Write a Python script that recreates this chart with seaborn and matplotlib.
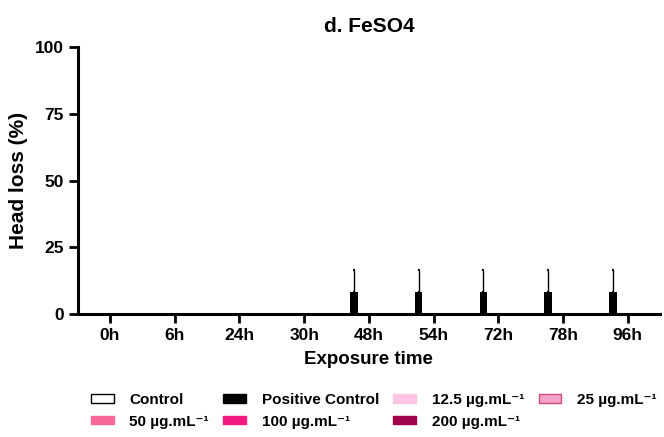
import numpy as np
import pandas as pd
import matplotlib
matplotlib.use("Agg")
import matplotlib.pyplot as plt
import seaborn as sns
from matplotlib.patches import Patch

sns.set_theme(style="ticks")
plt.rcParams['font.family'] = ['Liberation Sans', 'DejaVu Sans']
plt.rcParams['font.weight'] = 'bold'
plt.rcParams['text.color'] = 'black'
plt.rcParams['axes.labelcolor'] = 'black'
plt.rcParams['xtick.color'] = 'black'
plt.rcParams['ytick.color'] = 'black'

times = ["0h", "6h", "24h", "30h", "48h", "54h", "72h", "78h", "96h"]
groups = ["Control", "Positive Control", "12.5 µg.mL⁻¹", "25 µg.mL⁻¹",
          "50 µg.mL⁻¹", "100 µg.mL⁻¹", "200 µg.mL⁻¹"]
colors = ["#FFFFFF", "#000000", "#FFC4E1", "#F4A3C9", "#F7679A", "#F31B80", "#A0024C"]
edges = ["#000000", "#000000", "#FFC4E1", "#D4487F", "#F7679A", "#F31B80", "#A0024C"]

control = [0, 0, 0, 0, 0, 0, 0, 0, 0]
positive = [0, 0, 0, 0, 8.33, 8.33, 8.33, 8.33, 8.33]
positive_err = [0, 0, 0, 0, 8.33, 8.33, 8.33, 8.33, 8.33]
c12 = [0] * 9
c25 = [0] * 9
c50 = [0] * 9
c100 = [0] * 9
c200 = [0] * 9
series = [control, positive, c12, c25, c50, c100, c200]

rows = []
for g, vals in zip(groups, series):
    for t, v in zip(times, vals):
        rows.append({"time": t, "group": g, "value": v})
df = pd.DataFrame(rows)

fig = plt.figure(figsize=(6.64, 4.37), dpi=100)
ax = fig.add_axes([0.117, 0.281, 0.877, 0.611])

sns.barplot(data=df, x="time", y="value", hue="group", order=times, hue_order=groups,
            palette=colors, errorbar=None, width=0.8, ax=ax, legend=False,
            edgecolor="none")

# error bars for positive control (one-sided, upward)
pc_bars = ax.containers[1]
for rect, v, e in zip(pc_bars, positive, positive_err):
    if v > 0:
        xc = rect.get_x() + rect.get_width() / 2
        ax.errorbar(xc, v, yerr=[[0], [e]], fmt="none", ecolor="black",
                    elinewidth=1.0, capsize=1.0, capthick=1.5)

ax.set_ylim(0, 100)
ax.set_yticks([0, 25, 50, 75, 100])
ax.set_xlim(-0.5, len(times) - 0.5)
ax.set_title("d. FeSO4", fontsize=15, fontweight="bold", pad=11)
ax.set_xlabel("Exposure time", fontsize=13.5, fontweight="bold", labelpad=6)
ax.set_ylabel("Head loss (%)", fontsize=15, fontweight="bold", labelpad=5)
ax.tick_params(axis="both", labelsize=12.5, width=2, length=6.5, color="black")
for lab in ax.get_xticklabels() + ax.get_yticklabels():
    lab.set_fontweight("bold")
sns.despine(ax=ax)
ax.spines["left"].set_linewidth(2.2)
ax.spines["bottom"].set_linewidth(2.2)
ax.spines["left"].set_color("black")
ax.spines["bottom"].set_color("black")

handles = [Patch(facecolor=c, edgecolor=ec, linewidth=1.0) for c, ec in zip(colors, edges)]
# reorder so that the legend fills row by row (4 columns)
order = [0, 4, 1, 5, 2, 6, 3]
leg = fig.legend([handles[i] for i in order], [groups[i] for i in order],
                 loc="upper left", bbox_to_anchor=(91 / 664, 1 - 393 / 437),
                 borderpad=0, borderaxespad=0,
                 ncol=4, frameon=False, fontsize=11, handlelength=1.5, handleheight=0.45,
                 columnspacing=0.95, handletextpad=1.0, labelspacing=0.5)
for t in leg.get_texts():
    t.set_fontweight("bold")

fig.savefig("out.png", dpi=100)
